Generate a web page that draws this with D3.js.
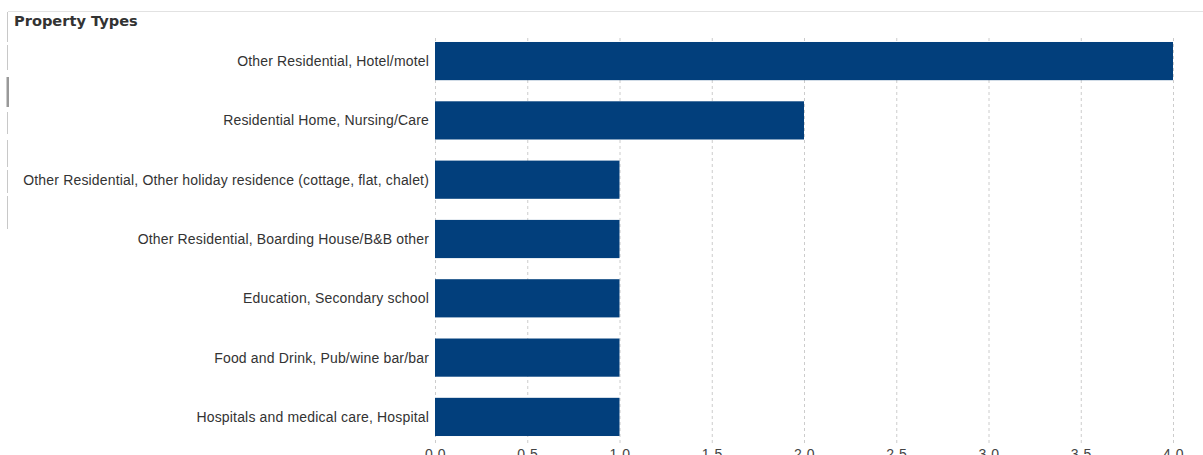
<!DOCTYPE html>
<html>
<head>
<meta charset="utf-8">
<script src="https://cdn.jsdelivr.net/npm/d3@7"></script>
<style>
  body { margin: 0; background: #fff; }
  svg { font-family: "Liberation Sans", Arial, sans-serif; }
  .tick line { stroke: #ccc; stroke-dasharray: 3,3; }
</style>
</head>
<body>
<div id="chart"></div>
<script>
var categories = [
    "Other Residential, Hotel/motel",
    "Residential Home, Nursing/Care",
    "Other Residential, Other holiday residence (cottage, flat, chalet)",
    "Other Residential, Boarding House/B&B other",
    "Education, Secondary school",
    "Food and Drink, Pub/wine bar/bar",
    "Hospitals and medical care, Hospital"
];
var values = [4, 2, 1, 1, 1, 1, 1];
var xTicks = [0, 0.5, 1, 1.5, 2, 2.5, 3, 3.5, 4];

var width = 1203;
var height = 455;
var margin = { top: 42, left: 435, right: 30, bottom: 20 };

var svg = d3.select("#chart")
    .append("svg")
    .attr("width", width)
    .attr("height", height);

// frame bits: top rule and the broken left edge
svg.append("line")
    .attr("x1", 8).attr("x2", width)
    .attr("y1", 11.5).attr("y2", 11.5)
    .attr("stroke", "#e2e2e2");

var leftSegs = [[12, 42], [45, 70], [112, 134], [140, 167], [170, 193], [196, 229]];
svg.selectAll(".lseg")
    .data(leftSegs)
    .enter()
    .append("line")
    .attr("x1", 7.5).attr("x2", 7.5)
    .attr("y1", function(d) { return d[0]; })
    .attr("y2", function(d) { return d[1]; })
    .attr("stroke", "#c8c8c8");
svg.append("rect")
    .attr("x", 6.5).attr("y", 77).attr("width", 2.5).attr("height", 30)
    .attr("fill", "#999");

svg.append("text")
    .attr("x", 14)
    .attr("y", 26)
    .attr("font-size", 14.6)
    .attr("font-weight", "bold")
    .attr("font-family", "DejaVu Sans, Verdana, sans-serif")
    .attr("fill", "#333")
    .text("Property Types");

var xScale = d3.scaleLinear()
    .domain([0, 4])
    .range([margin.left, 1173]);

var yScale = d3.scaleBand()
    .domain(categories)
    .range([32.5, 445.5])
    .paddingInner(0.356)
    .paddingOuter(0.16);

// dashed gridlines
var xAxis = svg.append("g")
    .attr("transform", "translate(0,38)")
    .call(d3.axisBottom(xScale)
        .tickValues(xTicks)
        .tickSize(407)
        .tickFormat(d3.format(".1f")));
xAxis.select(".domain").remove();
xAxis.selectAll("text")
    .attr("y", 411)
    .attr("font-size", 14)
    .attr("letter-spacing", 0.5)
    .attr("font-family", "Liberation Sans, Arial, sans-serif")
    .attr("fill", "#444");

svg.selectAll(".bar")
    .data(values)
    .enter()
    .append("rect")
    .attr("class", "bar")
    .attr("x", xScale(0))
    .attr("y", function(d, i) { return yScale(categories[i]); })
    .attr("width", function(d) { return xScale(d) - xScale(0); })
    .attr("height", yScale.bandwidth())
    .attr("fill", "#023f7c");

svg.selectAll(".label")
    .data(categories)
    .enter()
    .append("text")
    .attr("class", "label")
    .attr("x", 429)
    .attr("y", function(d) { return yScale(d) + yScale.bandwidth() / 2; })
    .attr("dy", "0.35em")
    .attr("text-anchor", "end")
    .attr("font-size", 14)
    .attr("letter-spacing", 0.17)
    .attr("fill", "#333")
    .text(function(d) { return d; });
</script>
</body>
</html>
